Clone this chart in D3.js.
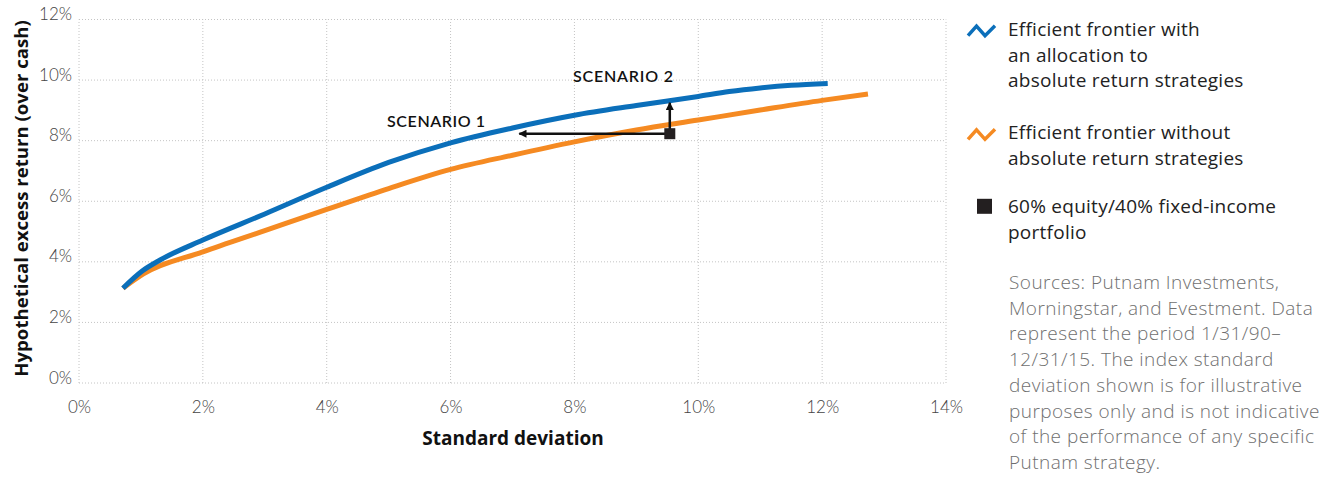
<!DOCTYPE html>
<html>
<head>
<meta charset="utf-8">
<script src="https://cdn.jsdelivr.net/npm/d3@7"></script>
<style>
  html, body { margin: 0; padding: 0; background: #fff; }
  svg { display: block; }
  text { font-family: "Open Sans", Lato, sans-serif; }
</style>
</head>
<body>
<svg id="chart" width="1336" height="481"></svg>
<script>
// Efficient frontier with an allocation to absolute return strategies
const sdWith  = [0.71, 1.01, 1.31, 2.0, 3.0, 4.0, 5.0, 6.0, 7.0, 8.0, 9.0, 10.0, 10.5, 11.0, 11.5, 12.09];
const retWith = [3.13, 3.68, 4.06, 4.72, 5.58, 6.46, 7.28, 7.93, 8.42, 8.84, 9.16, 9.46, 9.62, 9.74, 9.83, 9.89];

// Efficient frontier without absolute return strategies
const sdWithout  = [0.71, 1.04, 2.0, 3.0, 4.0, 5.0, 6.0, 7.0, 8.0, 9.0, 10.0, 11.0, 12.0, 12.74];
const retWithout = [3.13, 3.60, 4.33, 5.03, 5.73, 6.42, 7.05, 7.52, 7.96, 8.35, 8.68, 9.01, 9.33, 9.54];

// 60/40 portfolio and the two scenario moves toward the blue frontier
const portfolio = [9.54, 8.23];          // [standard deviation, return]
const scenario1Sd = 7.11;                 // same return, lower risk
const scenario2Ret = 9.25;                // same risk, higher return

const xTicks = [0, 2, 4, 6, 8, 10, 12, 14];
const yTicks = [0, 2, 4, 6, 8, 10, 12];

const legendItems = [
  { kind: "line", color: "#0b6fba", lines: ["Efficient frontier with", "an allocation to", "absolute return strategies"] },
  { kind: "line", color: "#f58a22", lines: ["Efficient frontier without", "absolute return strategies"] },
  { kind: "square", color: "#231f20", lines: ["60% equity/40% fixed-income", "portfolio"] }
];
const sourceLines = [
  "Sources: Putnam Investments,",
  "Morningstar, and Evestment. Data",
  "represent the period 1/31/90\u2013",
  "12/31/15. The index standard",
  "deviation shown is for illustrative",
  "purposes only and is not indicative",
  "of the performance of any specific",
  "Putnam strategy."
];

const svg = d3.select("#chart");
const x = d3.scaleLinear().domain([0, 14]).range([79, 946]);
const y = d3.scaleLinear().domain([0, 12]).range([383, 19.5]);

// grid
const grid = svg.append("g");
grid.selectAll("line.v").data(xTicks).join("line")
  .attr("x1", d => x(d)).attr("x2", d => x(d))
  .attr("y1", y(0)).attr("y2", y(12))
  .attr("stroke", "#c4c4c4").attr("stroke-width", 1).attr("stroke-dasharray", "1,2");
grid.selectAll("line.h").data(yTicks).join("line")
  .attr("x1", x(0)).attr("x2", x(14))
  .attr("y1", d => y(d)).attr("y2", d => y(d))
  .attr("stroke", "#c4c4c4").attr("stroke-width", 1).attr("stroke-dasharray", "1,2");

// axes (labels only)
const xAxis = d3.axisBottom(x).tickValues(xTicks).tickFormat(d => d + "%").tickSize(0).tickPadding(0);
const gx = svg.append("g").attr("transform", `translate(0,${y(0)})`).call(xAxis);
gx.select(".domain").remove();
gx.selectAll("text").attr("dy", null).attr("y", 30)
  .attr("font-size", 17).attr("font-weight", 300).attr("fill", "#444")
  .style("font-family", "Lato, sans-serif");

const yAxis = d3.axisLeft(y).tickValues(yTicks).tickFormat(d => d + "%").tickSize(0).tickPadding(0);
const gy = svg.append("g").attr("transform", `translate(72,0)`).call(yAxis);
gy.select(".domain").remove();
gy.selectAll("text").attr("dy", null).attr("x", 0).attr("y", 0)
  .attr("font-size", 17).attr("font-weight", 300).attr("fill", "#444")
  .style("font-family", "Lato, sans-serif");

// axis titles
svg.append("text").attr("x", 513).attr("y", 445).attr("text-anchor", "middle")
  .attr("font-size", 19).attr("font-weight", 700).attr("fill", "#111")
  .text("Standard deviation");
svg.append("text").attr("transform", "translate(28,198.5) rotate(-90)").attr("text-anchor", "middle")
  .attr("font-size", 18.6).attr("font-weight", 700).attr("fill", "#111")
  .text("Hypothetical excess return (over cash)");

// frontiers
const line = d3.line().x(d => x(d[0])).y(d => y(d[1])).curve(d3.curveMonotoneX);
svg.append("path").datum(d3.zip(sdWithout, retWithout)).attr("d", line)
  .attr("fill", "none").attr("stroke", "#f58a22").attr("stroke-width", 5);
svg.append("path").datum(d3.zip(sdWith, retWith)).attr("d", line)
  .attr("fill", "none").attr("stroke", "#0b6fba").attr("stroke-width", 5);

// scenario arrows
svg.append("defs").append("marker").attr("id", "head")
  .attr("viewBox", "0 0 10 10").attr("refX", 9).attr("refY", 5)
  .attr("markerWidth", 10).attr("markerHeight", 8).attr("markerUnits", "userSpaceOnUse")
  .attr("orient", "auto")
  .append("path").attr("d", "M0,0 L10,5 L0,10 Z").attr("fill", "#111");
svg.append("line")
  .attr("x1", x(portfolio[0])).attr("y1", y(portfolio[1]))
  .attr("x2", x(scenario1Sd)).attr("y2", y(portfolio[1]))
  .attr("stroke", "#111").attr("stroke-width", 2.5).attr("marker-end", "url(#head)");
svg.append("line")
  .attr("x1", x(portfolio[0])).attr("y1", y(portfolio[1]))
  .attr("x2", x(portfolio[0])).attr("y2", y(scenario2Ret))
  .attr("stroke", "#111").attr("stroke-width", 2.5).attr("marker-end", "url(#head)");
svg.append("rect")
  .attr("x", x(portfolio[0]) - 5.5).attr("y", y(portfolio[1]) - 5.5)
  .attr("width", 11).attr("height", 11).attr("fill", "#231f20");

svg.append("text").attr("x", 387).attr("y", 127)
  .attr("font-size", 16).attr("font-weight", 600).attr("fill", "#111").attr("letter-spacing", 0.6)
  .style("font-family", "Lato, sans-serif")
  .text("SCENARIO 1");
svg.append("text").attr("x", 573).attr("y", 82)
  .attr("font-size", 16).attr("font-weight", 600).attr("fill", "#111").attr("letter-spacing", 0.8)
  .style("font-family", "Lato, sans-serif")
  .text("SCENARIO 2");

// legend
const legendTop = [35.7, 139.3, 213.3];
const lh = 25.8;
const lg = svg.append("g");
legendItems.forEach((item, i) => {
  const base = legendTop[i];
  if (item.kind === "line") {
    lg.append("path")
      .attr("d", `M968,${base} L976.5,${base - 9.5} L985,${base} L995,${base - 10}`)
      .attr("fill", "none").attr("stroke", item.color).attr("stroke-width", 3.5);
  } else {
    lg.append("rect").attr("x", 977).attr("y", base - 14.5).attr("width", 15).attr("height", 15)
      .attr("fill", item.color);
  }
  const t = lg.append("text").attr("x", 1008).attr("y", base)
    .attr("font-size", 19).attr("letter-spacing", 0.25).attr("fill", "#222");
  item.lines.forEach((s, j) => {
    t.append("tspan").attr("x", 1008).attr("y", base + j * lh).text(s);
  });
});

// sources
const st = svg.append("text").attr("font-size", 19).attr("font-weight", 300)
  .attr("letter-spacing", 0.45).attr("fill", "#6f6f6f");
sourceLines.forEach((s, j) => {
  st.append("tspan").attr("x", 1009).attr("y", 289 + j * 25.7).text(s);
});
</script>
</body>
</html>
